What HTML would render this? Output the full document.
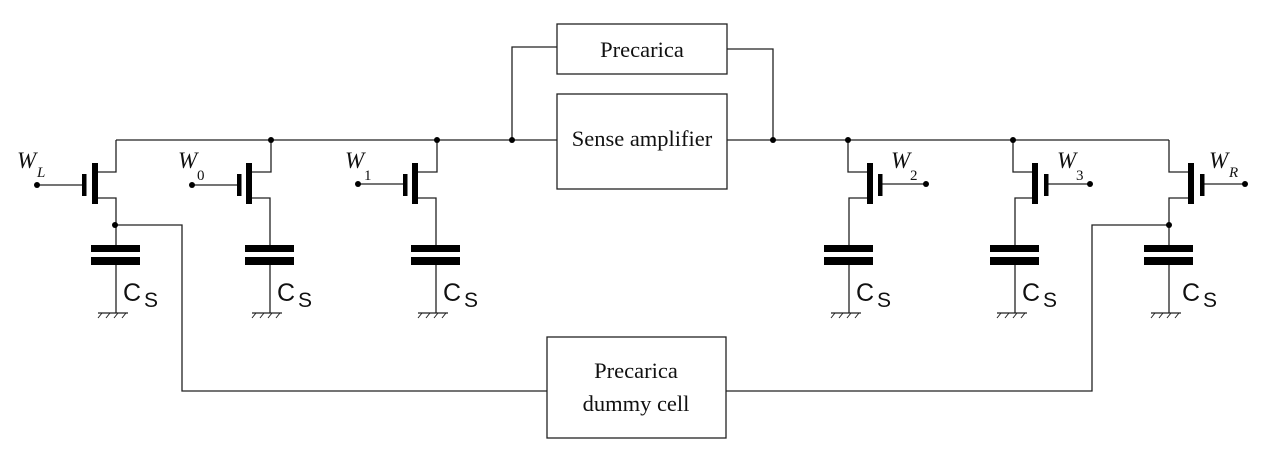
<!DOCTYPE html>
<html><head><meta charset="utf-8"><style>
html,body{margin:0;padding:0;background:#fff;}
svg{display:block;}
.w{font-family:"Liberation Serif",serif;font-style:italic;font-size:23px;}
.ws{font-family:"Liberation Serif",serif;font-size:15px;}
.wsi{font-family:"Liberation Serif",serif;font-style:italic;font-size:15px;}
.c{font-family:"Liberation Sans",sans-serif;font-size:25px;}
.cs{font-family:"Liberation Sans",sans-serif;font-size:21px;}
.b{font-family:"Liberation Serif",serif;font-size:22.5px;}
</style></head><body>
<svg width="1280" height="451" viewBox="0 0 1280 451" xmlns="http://www.w3.org/2000/svg">
<g stroke="#222" stroke-width="1.3" fill="none">
<line x1="116" y1="140" x2="557" y2="140"/>
<line x1="727" y1="140" x2="1169" y2="140"/>
<rect x="557" y="24" width="170" height="50"/>
<rect x="557" y="94" width="170" height="95"/>
<rect x="547" y="337" width="179" height="101"/>
<polyline points="512,140 512,47 557,47"/>
<polyline points="727,49 773,49 773,140"/>
<polyline points="115,225 182,225 182,391 547,391"/>
<polyline points="1169,225 1092,225 1092,391 726,391"/>
</g>
<g fill="#000" stroke="#222" stroke-width="1.3">
<line x1="37" y1="185" x2="84" y2="185"/>
<polyline fill="none" points="97,172 116,172 116,140"/>
<polyline fill="none" points="97,198 116,198 116,245"/>
<rect x="82" y="174" width="4.5" height="22" stroke="none"/>
<rect x="92" y="163" width="6" height="41" stroke="none"/>
<line x1="192" y1="185" x2="239" y2="185"/>
<polyline fill="none" points="251,172 271,172 271,140"/>
<polyline fill="none" points="251,198 270,198 270,245"/>
<rect x="237" y="174" width="4.5" height="22" stroke="none"/>
<rect x="246" y="163" width="6" height="41" stroke="none"/>
<line x1="358" y1="184" x2="405" y2="184"/>
<polyline fill="none" points="417,172 437,172 437,140"/>
<polyline fill="none" points="417,198 436,198 436,245"/>
<rect x="403" y="174" width="4.5" height="22" stroke="none"/>
<rect x="412" y="163" width="6" height="41" stroke="none"/>
<line x1="880" y1="184" x2="926" y2="184"/>
<polyline fill="none" points="868,172 848,172 848,140"/>
<polyline fill="none" points="868,198 849,198 849,245"/>
<rect x="878" y="174" width="4.5" height="22" stroke="none"/>
<rect x="867" y="163" width="6" height="41" stroke="none"/>
<line x1="1046" y1="184" x2="1090" y2="184"/>
<polyline fill="none" points="1033,172 1013,172 1013,140"/>
<polyline fill="none" points="1033,198 1015,198 1015,245"/>
<rect x="1044" y="174" width="4.5" height="22" stroke="none"/>
<rect x="1032" y="163" width="6" height="41" stroke="none"/>
<line x1="1202" y1="184" x2="1245" y2="184"/>
<polyline fill="none" points="1189,172 1169,172 1169,140"/>
<polyline fill="none" points="1189,198 1169,198 1169,245"/>
<rect x="1200" y="174" width="4.5" height="22" stroke="none"/>
<rect x="1188" y="163" width="6" height="41" stroke="none"/>
</g>
<g fill="#000" stroke="#222" stroke-width="1.3">
<g transform="translate(116,0)"><rect x="-25" y="245" width="49" height="7" stroke="none"/><rect x="-25" y="257" width="49" height="8" stroke="none"/><line x1="0" y1="265" x2="0" y2="313"/><line x1="-18" y1="313" x2="12" y2="313"/><path d="M-14 313 l-4 5 M-6 313 l-4 5 M2 313 l-4 5 M10 313 l-4 5" fill="none" stroke-width="1"/></g>
<g transform="translate(270,0)"><rect x="-25" y="245" width="49" height="7" stroke="none"/><rect x="-25" y="257" width="49" height="8" stroke="none"/><line x1="0" y1="265" x2="0" y2="313"/><line x1="-18" y1="313" x2="12" y2="313"/><path d="M-14 313 l-4 5 M-6 313 l-4 5 M2 313 l-4 5 M10 313 l-4 5" fill="none" stroke-width="1"/></g>
<g transform="translate(436,0)"><rect x="-25" y="245" width="49" height="7" stroke="none"/><rect x="-25" y="257" width="49" height="8" stroke="none"/><line x1="0" y1="265" x2="0" y2="313"/><line x1="-18" y1="313" x2="12" y2="313"/><path d="M-14 313 l-4 5 M-6 313 l-4 5 M2 313 l-4 5 M10 313 l-4 5" fill="none" stroke-width="1"/></g>
<g transform="translate(849,0)"><rect x="-25" y="245" width="49" height="7" stroke="none"/><rect x="-25" y="257" width="49" height="8" stroke="none"/><line x1="0" y1="265" x2="0" y2="313"/><line x1="-18" y1="313" x2="12" y2="313"/><path d="M-14 313 l-4 5 M-6 313 l-4 5 M2 313 l-4 5 M10 313 l-4 5" fill="none" stroke-width="1"/></g>
<g transform="translate(1015,0)"><rect x="-25" y="245" width="49" height="7" stroke="none"/><rect x="-25" y="257" width="49" height="8" stroke="none"/><line x1="0" y1="265" x2="0" y2="313"/><line x1="-18" y1="313" x2="12" y2="313"/><path d="M-14 313 l-4 5 M-6 313 l-4 5 M2 313 l-4 5 M10 313 l-4 5" fill="none" stroke-width="1"/></g>
<g transform="translate(1169,0)"><rect x="-25" y="245" width="49" height="7" stroke="none"/><rect x="-25" y="257" width="49" height="8" stroke="none"/><line x1="0" y1="265" x2="0" y2="313"/><line x1="-18" y1="313" x2="12" y2="313"/><path d="M-14 313 l-4 5 M-6 313 l-4 5 M2 313 l-4 5 M10 313 l-4 5" fill="none" stroke-width="1"/></g>
</g>
<g fill="#000">
<circle cx="37" cy="185" r="3"/><circle cx="192" cy="185" r="3"/><circle cx="358" cy="184" r="3"/>
<circle cx="926" cy="184" r="3"/><circle cx="1090" cy="184" r="3"/><circle cx="1245" cy="184" r="3"/>
<circle cx="271" cy="140" r="3"/><circle cx="437" cy="140" r="3"/><circle cx="512" cy="140" r="3"/>
<circle cx="773" cy="140" r="3"/><circle cx="848" cy="140" r="3"/><circle cx="1013" cy="140" r="3"/>
<circle cx="115" cy="225" r="3"/><circle cx="1169" cy="225" r="3"/>
</g>
<g fill="#111">
<text class="w" x="17" y="168">W</text><text class="wsi" x="37" y="177">L</text>
<text class="w" x="178" y="168">W</text><text class="ws" x="197" y="180">0</text>
<text class="w" x="345" y="168">W</text><text class="ws" x="364" y="180">1</text>
<text class="w" x="891" y="168">W</text><text class="ws" x="910" y="180">2</text>
<text class="w" x="1057" y="168">W</text><text class="ws" x="1076" y="180">3</text>
<text class="w" x="1209" y="168">W</text><text class="wsi" x="1229" y="177">R</text>
<g class="c">
<text x="123" y="301">C</text><text class="cs" x="144" y="307">S</text>
<text x="277" y="301">C</text><text class="cs" x="298" y="307">S</text>
<text x="443" y="301">C</text><text class="cs" x="464" y="307">S</text>
<text x="856" y="301">C</text><text class="cs" x="877" y="307">S</text>
<text x="1022" y="301">C</text><text class="cs" x="1043" y="307">S</text>
<text x="1182" y="301">C</text><text class="cs" x="1203" y="307">S</text>
</g>
<text class="b" x="642" y="57" text-anchor="middle">Precarica</text>
<text class="b" x="642" y="146" text-anchor="middle">Sense amplifier</text>
<text class="b" x="636" y="378" text-anchor="middle">Precarica</text>
<text class="b" x="636" y="411" text-anchor="middle">dummy cell</text>
</g>
</svg>
</body></html>
